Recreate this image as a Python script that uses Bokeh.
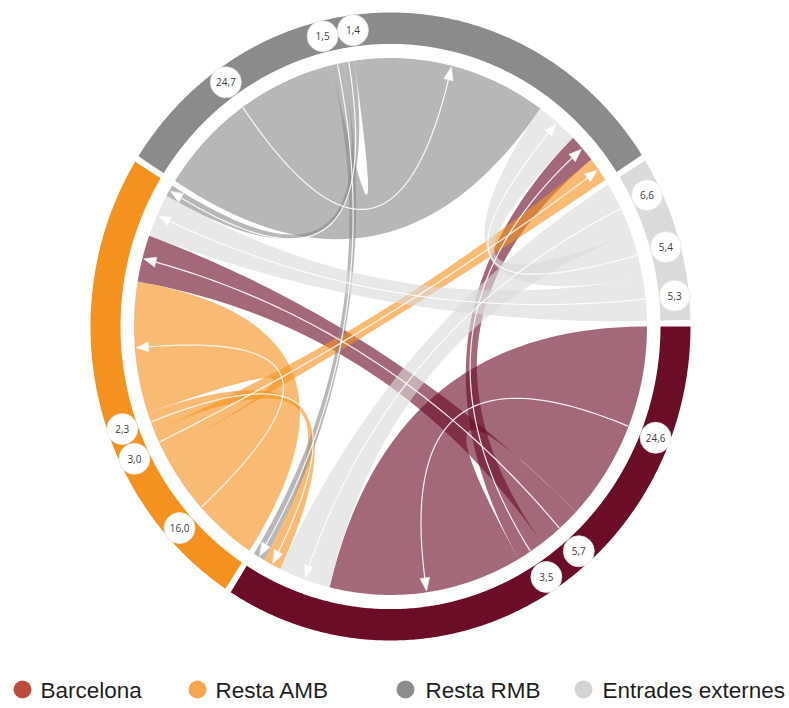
import numpy as np
from bokeh.plotting import figure
from bokeh.models import Range1d, ColumnDataSource
from bokeh.core.properties import value
from bokeh.embed import file_html
from bokeh.resources import INLINE

# ---------------- data ----------------
groups = ["Barcelona", "Resta AMB", "Resta RMB", "Entrades externes"]
ring_colors = ["#6b0d27", "#f5911e", "#8b8b8b", "#dadada"]
legend_colors = ["#bb4b3d", "#f9a54e", "#8d8d8d", "#d3d3d3"]

# flows (source -> target, value in %), listed in the order they sit on the source arc
flow_src = [0, 0, 0, 1, 1, 1, 2, 2, 2, 3, 3, 3]
flow_tgt = [0, 1, 2, 1, 2, 0, 2, 0, 1, 0, 2, 1]
flow_val = [24.6, 5.7, 3.5, 16.0, 3.0, 2.3, 24.7, 1.5, 1.4, 6.6, 5.4, 5.3]
# order of incoming flows (by source group) on each target arc
in_order = [[0, 3, 1, 2], [1, 0, 3, 2], [2, 3, 0, 1], []]

# ---------------- layout ----------------
GAP = 1.2
START = 0.0
R_OUT, R_IN, R_RIB, R_LAB = 1.0, 0.9, 0.855, 0.952
PX_X, PX_Y = 300.0, 314.0  # pixels per unit
CX, CY = 390.0, 326.0      # centre inside the canvas
W, H = 789, 706

n = len(flow_val)
k = (360.0 - 4 * GAP) / (2 * sum(flow_val))

src_seg = [None] * n
tgt_seg = [None] * n
group_span = []
cur = START
for g in range(len(groups)):
    g0 = cur
    for i in range(n):
        if flow_src[i] == g:
            src_seg[i] = (cur, cur - flow_val[i] * k)
            cur -= flow_val[i] * k
    for s in in_order[g]:
        i = next(j for j in range(n) if flow_src[j] == s and flow_tgt[j] == g)
        tgt_seg[i] = (cur, cur - flow_val[i] * k)
        cur -= flow_val[i] * k
    group_span.append((g0, cur))
    cur -= GAP


def pol(r, a):
    a = np.radians(a)
    return r * np.cos(a), r * np.sin(a)


def arc(r, a0, a1):
    m = max(2, int(abs(a1 - a0) * 2) + 2)
    a = np.radians(np.linspace(a0, a1, m))
    return list(r * np.cos(a)), list(r * np.sin(a))


def bez(p0, p2, m=60):
    t = np.linspace(0, 1, m)
    x = (1 - t) ** 2 * p0[0] + t ** 2 * p2[0]
    y = (1 - t) ** 2 * p0[1] + t ** 2 * p2[1]
    return list(x), list(y)


p = figure(width=W, height=H, output_backend="svg", toolbar_location=None,
           x_range=Range1d(-CX / PX_X, (W - CX) / PX_X),
           y_range=Range1d(-(H - CY) / PX_Y, CY / PX_Y),
           x_axis_location=None, y_axis_location=None, min_border=0)
p.grid.visible = False
p.outline_line_color = None
p.background_fill_color = "white"

# ribbons
rx, ry, rc = [], [], []
for i in range(n):
    a0, a1 = src_seg[i]
    b0, b1 = tgt_seg[i]
    xs, ys = [], []
    for part in (arc(R_RIB, a0, a1), bez(pol(R_RIB, a1), pol(R_RIB, b0)),
                 arc(R_RIB, b0, b1), bez(pol(R_RIB, b1), pol(R_RIB, a0))):
        xs += part[0]
        ys += part[1]
    rx.append(xs)
    ry.append(ys)
    rc.append(ring_colors[flow_src[i]])
p.patches(rx, ry, fill_color=rc, fill_alpha=0.62, line_color=None)

# centre lines with arrowheads
lx, ly, tx, ty = [], [], [], []
for i in range(n):
    ma = sum(src_seg[i]) / 2
    mb = sum(tgt_seg[i]) / 2
    xs, ys = bez(pol(R_RIB - 0.002, ma), pol(R_RIB - 0.03, mb))
    lx.append(xs)
    ly.append(ys)
    tip = np.array(pol(R_RIB - 0.004, mb))
    base = np.array(pol(R_RIB - 0.046, mb))
    perp = np.array(pol(0.016, mb + 90))
    tri = [tip, base + perp, base - perp]
    tx.append([q[0] for q in tri])
    ty.append([q[1] for q in tri])
p.multi_line(lx, ly, line_color="white", line_width=1.2, line_alpha=0.9)
p.patches(tx, ty, fill_color="white", line_color="#eeeeee", line_width=0.6)

# outer ring
gx, gy = [], []
for (g0, g1) in group_span:
    xo, yo = arc(R_OUT, g0, g1)
    xi, yi = arc(R_IN, g1, g0)
    gx.append(xo + xi)
    gy.append(yo + yi)
p.patches(gx, gy, fill_color=ring_colors, line_color=None)

# value labels (spread apart when too close)
MIN_SEP = 6.2
lab_ang, lab_txt = [], []
for g in range(len(groups)):
    idx = [i for i in range(n) if flow_src[i] == g]
    mids = [sum(src_seg[i]) / 2 for i in idx]
    for _ in range(50):
        for j in range(len(mids) - 1):
            d = mids[j] - mids[j + 1]
            if d < MIN_SEP:
                sh = (MIN_SEP - d) / 2
                mids[j] += sh
                mids[j + 1] -= sh
    lab_ang += mids
    lab_txt += [("%.1f" % flow_val[i]).replace(".", ",") for i in idx]
lxs = [pol(R_LAB, a)[0] for a in lab_ang]
lys = [pol(R_LAB, a)[1] for a in lab_ang]
src = ColumnDataSource(dict(x=lxs, y=lys, t=lab_txt))
p.scatter("x", "y", source=src, size=31, marker="circle", fill_color="white",
          line_color="#e2e2e2", line_width=0.8)
p.text("x", "y", text="t", source=src, text_align="center", text_baseline="middle",
       text_font=value("Open Sans"), text_font_size="10px", text_color="#3c3c3c")

# legend
leg_circle_px = [22, 197, 405, 583]
leg_text_px = [40, 215, 425, 602]
leg_y_px = 689
to_x = lambda px: (px - CX) / PX_X
to_y = lambda py: (CY - py) / PX_Y
p.scatter([to_x(v) for v in leg_circle_px], [to_y(leg_y_px)] * 4, size=18,
          marker="circle", fill_color=legend_colors, line_color=None)
p.text([to_x(v) for v in leg_text_px], [to_y(leg_y_px + 1)] * 4, text=groups,
       text_align="left", text_baseline="middle",
       text_font=value("Liberation Sans"), text_font_size="22.5px", text_color="#1e1e1e")

open("out.html", "w").write(file_html(p, INLINE))
